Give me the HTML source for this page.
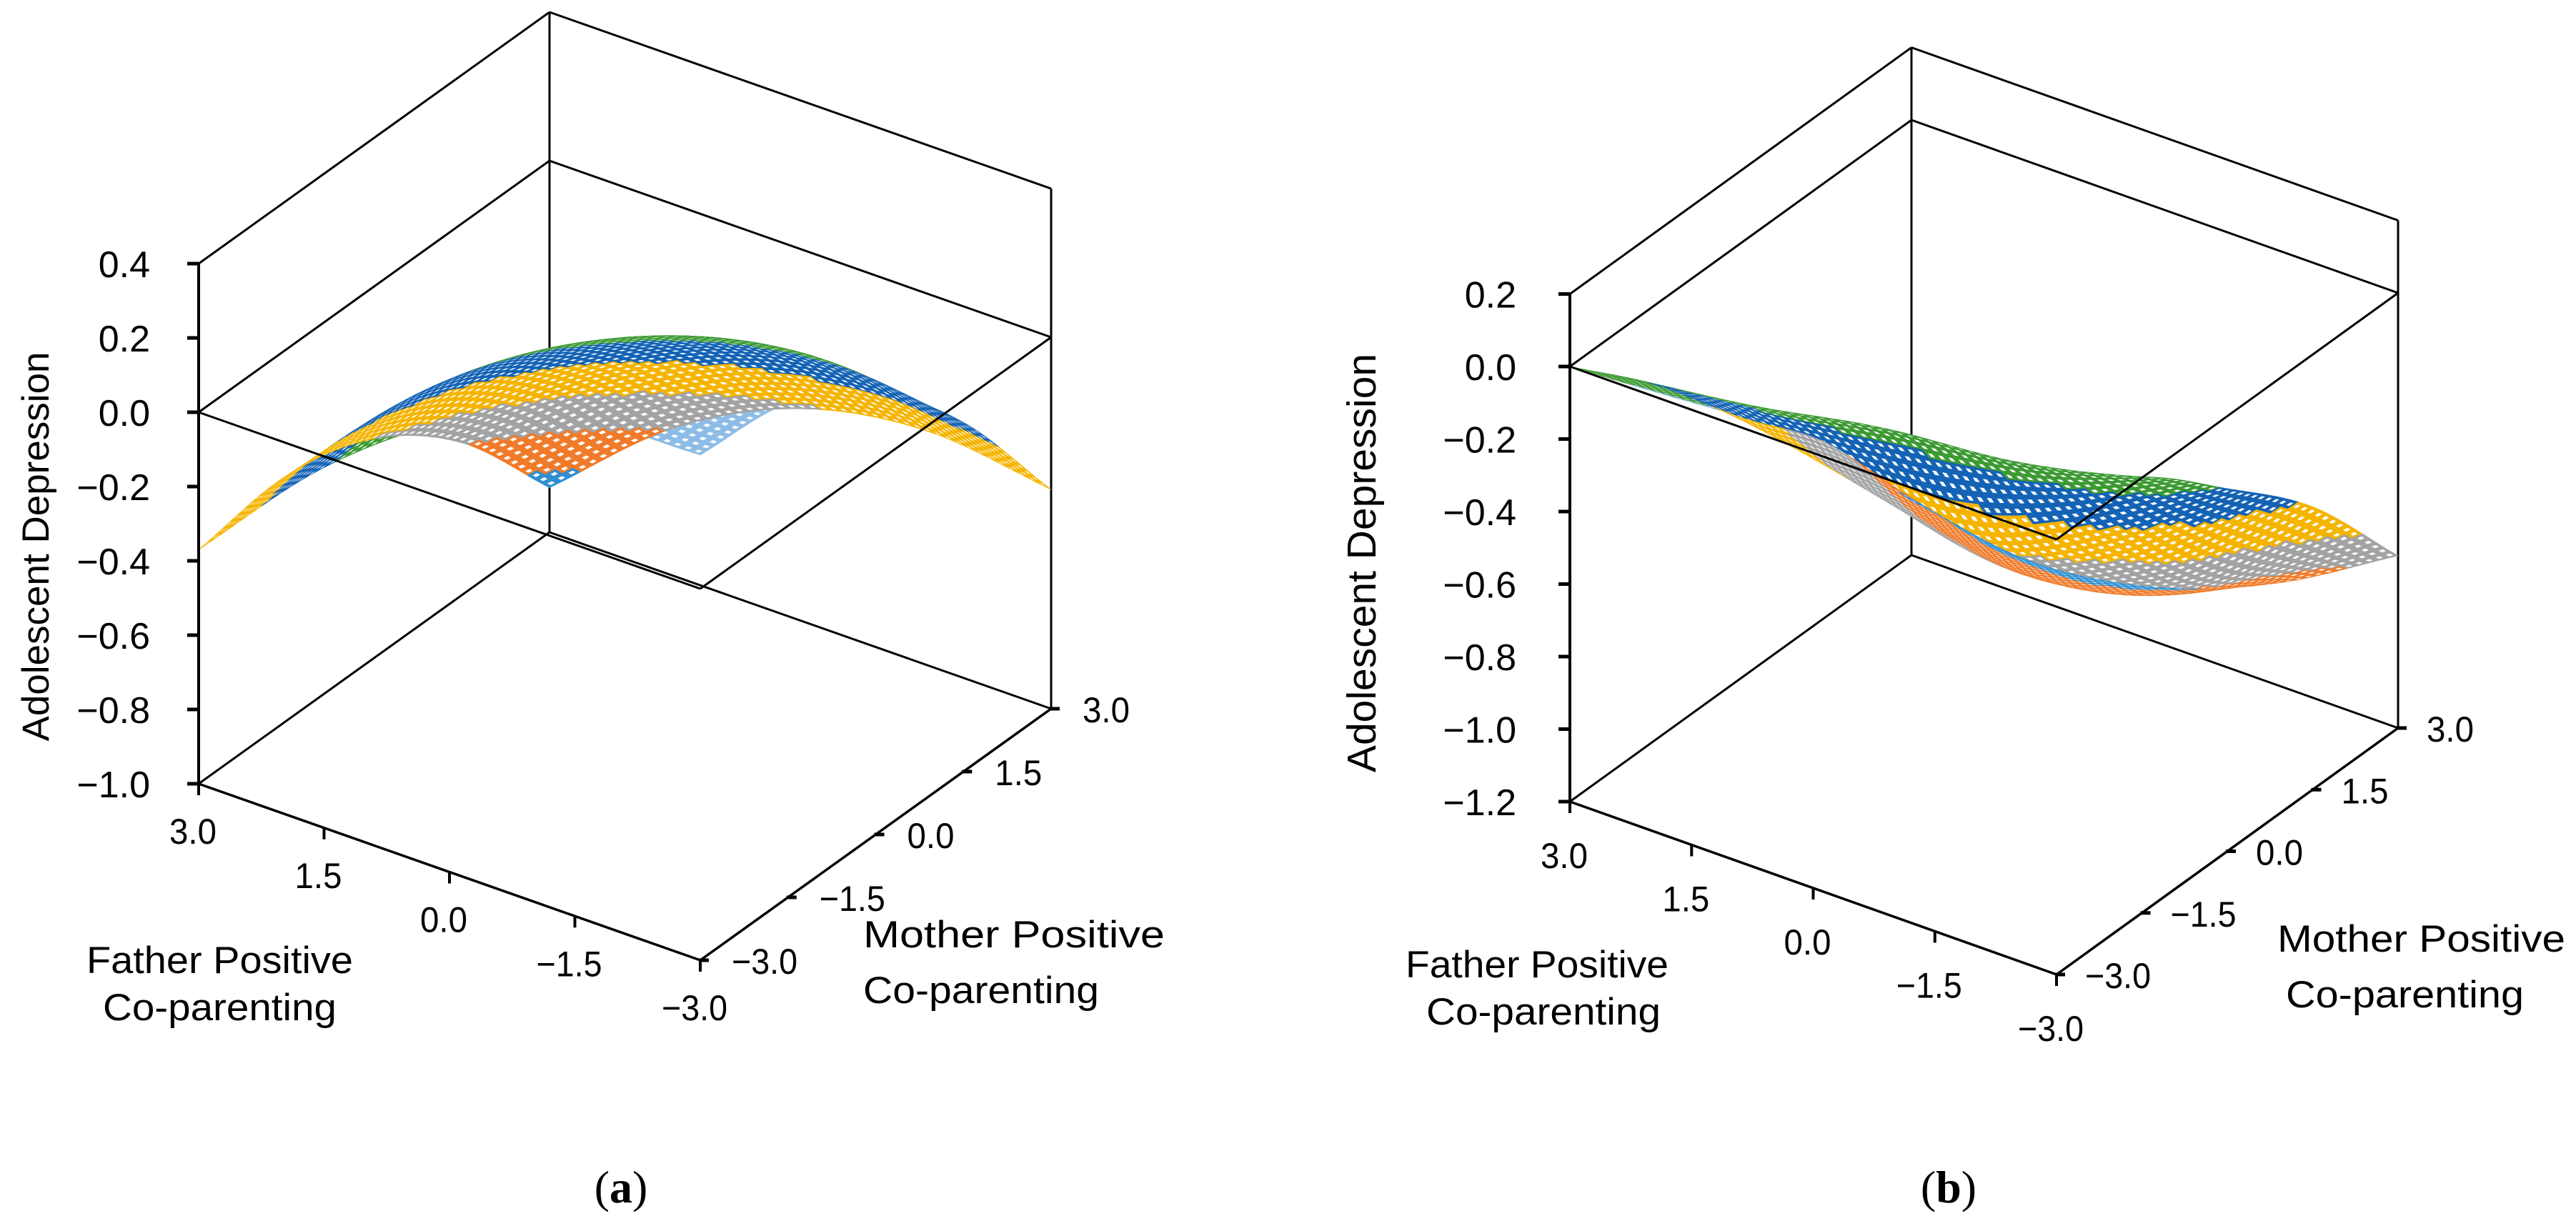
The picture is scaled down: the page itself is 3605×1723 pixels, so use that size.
<!DOCTYPE html>
<html><head><meta charset="utf-8"><style>
html,body{margin:0;padding:0;background:#fff;}
svg{display:block;}
text{font-family:"Liberation Sans",Arial,sans-serif;fill:#000;}
.cap{font-family:"Liberation Serif",serif;}
</style></head>
<body>
<svg id="fig" width="3605" height="1723" viewBox="0 0 3605 1723" xmlns="http://www.w3.org/2000/svg">
<rect width="3605" height="1723" fill="#fff"/>
<g id="chartA"></g>
<g id="chartB"></g>
<text class="cap" x="869" y="1683" font-size="64" text-anchor="middle">(<tspan font-weight="bold">a</tspan>)</text>
<text class="cap" x="2727" y="1683" font-size="64" text-anchor="middle">(<tspan font-weight="bold">b</tspan>)</text>
</svg>
<script>
// ---- data ----
const fatherLevels = [3, 1.5, 0, -1.5, -3];
const motherLevels = [-3, -1.5, 0, 1.5, 3];
// rows = father levels, columns = mother levels
const depressionA = [
  [-0.37, -0.34, -0.41, -0.59, -0.88],
  [-0.03, -0.01, -0.10, -0.30, -0.60],
  [ 0.21,  0.21,  0.10, -0.11, -0.43],
  [ 0.34,  0.32,  0.20, -0.03, -0.37],
  [ 0.36,  0.33,  0.19, -0.06, -0.41]
];
const depressionB = [
  [ 0.00, -0.22, -0.48, -0.72, -1.05],
  [ 0.02, -0.18, -0.55, -0.85, -1.10],
  [ 0.05, -0.12, -0.60, -0.88, -1.05],
  [ 0.08, -0.08, -0.45, -0.75, -0.92],
  [ 0.10,  0.00, -0.20, -0.42, -0.725]
];
const zTicksA = [0.4, 0.2, 0.0, -0.2, -0.4, -0.6, -0.8, -1.0];
const zTicksB = [0.2, 0.0, -0.2, -0.4, -0.6, -0.8, -1.0, -1.2];
const axisTicks = [3.0, 1.5, 0.0, -1.5, -3.0];
const bandColors = ['#2f8fd2','#f07b2a','#a3a3a3','#f5b400','#1463b5','#3c9a33','#8dbce6'];

const NS = 'http://www.w3.org/2000/svg';
function mk(tag, attrs, parent){
  const e = document.createElementNS(NS, tag);
  for (const k in attrs) e.setAttribute(k, attrs[k]);
  parent.appendChild(e);
  return e;
}
function fmt(v){ const s = Math.abs(v).toFixed(1); return (v < 0 ? '\u2212' : '') + s; }

function cr(p0,p1,p2,p3,t){
  return 0.5*((2*p1)+(-p0+p2)*t+(2*p0-5*p1+4*p2-p3)*t*t+(-p0+3*p1-3*p2+p3)*t*t*t);
}
function interp(grid, F, M){
  const r = (fatherLevels[0] - F) / 1.5, c = (M - motherLevels[0]) / 1.5;
  const g = (i,j)=>{
    // linear extrapolation beyond the border
    const ci = Math.max(0,Math.min(4,i)), cj = Math.max(0,Math.min(4,j));
    let v = grid[ci][cj];
    if (i < 0) v = 2*grid[0][cj] - grid[1][cj];
    if (i > 4) v = 2*grid[4][cj] - grid[3][cj];
    if (j < 0) v += (2*grid[ci][0] - grid[ci][1]) - grid[ci][0];
    if (j > 4) v += (2*grid[ci][4] - grid[ci][3]) - grid[ci][4];
    return v;
  };
  const ri = Math.min(3, Math.floor(r)), ci = Math.min(3, Math.floor(c));
  const tr = r - ri, tc = c - ci;
  const rows = [];
  for (let i=-1;i<=2;i++){
    rows.push(cr(g(ri+i,ci-1), g(ri+i,ci), g(ri+i,ci+1), g(ri+i,ci+2), tc));
  }
  return cr(rows[0], rows[1], rows[2], rows[3], tr);
}

function drawChart(cfg){
  const G = document.getElementById(cfg.id);
  const P = (F, M, z) => {
    const a = (3 - F) / 6, b = (M + 3) / 6;
    return [cfg.x0 + a*cfg.fx + b*cfg.mx, cfg.y0 + a*cfg.fy + b*cfg.my - (z - cfg.zmin)*cfg.k];
  };
  const line = (p, q, name, w) => {
    const l = mk('line', {x1:p[0].toFixed(1), y1:p[1].toFixed(1), x2:q[0].toFixed(1), y2:q[1].toFixed(1), stroke:'#000', 'stroke-width': w||3}, G);
    
    
    return l;
  };
  const zmax = cfg.zmax;
  line(P(3,-3,zmax), P(3,3,zmax), 'left-wall-top-edge');
  line(P(3,3,zmax), P(-3,3,zmax), 'right-wall-top-edge');
  line(P(3,3,zmax), P(3,3,cfg.zmin), 'back-wall-corner-edge');
  line(P(-3,3,zmax), P(-3,3,cfg.zmin), 'right-wall-edge');
  line(P(3,-3,cfg.zmin), P(3,3,cfg.zmin), 'floor-back-left-edge');
  line(P(3,3,cfg.zmin), P(-3,3,cfg.zmin), 'floor-back-right-edge');

  const surf = mk('g', {}, G);
  
  
  const N = 48, cells = [];
  const val = [];
  for (let i=0;i<=N;i++){ val.push([]); for (let j=0;j<=N;j++){
    const F = 3 - 6*i/N, M = -3 + 6*j/N;
    val[i].push(Math.min(cfg.zmax, Math.max(cfg.zmin, interp(cfg.data, F, M))));
  }}
  for (let i=0;i<N;i++) for (let j=0;j<N;j++){
    const F0 = 3 - 6*i/N, F1 = 3 - 6*(i+1)/N, M0 = -3 + 6*j/N, M1 = -3 + 6*(j+1)/N;
    const zs = [val[i][j], val[i+1][j], val[i+1][j+1], val[i][j+1]];
    const pts = [P(F0,M0,zs[0]), P(F1,M0,zs[1]), P(F1,M1,zs[2]), P(F0,M1,zs[3])];
    const za = (zs[0]+zs[1]+zs[2]+zs[3])/4;
    const depth = (i+0.5)*cfg.fy - (j+0.5)*cfg.my;
    cells.push({pts, za, depth});
  }
  cells.sort((a,b)=>a.depth-b.depth);
  for (const c of cells){
    let band = Math.floor((c.za - cfg.zmin)/0.2);
    band = Math.max(0, Math.min(bandColors.length-1, band));
    const d = 'M' + c.pts.map(p=>p[0].toFixed(1)+','+p[1].toFixed(1)).join('L') + 'Z';
    const cell = mk('path', {d, fill: bandColors[band], stroke: bandColors[band], 'stroke-width': 0.8}, surf);
    
    
    const cx = (c.pts[0][0]+c.pts[1][0]+c.pts[2][0]+c.pts[3][0])/4;
    const cy = (c.pts[0][1]+c.pts[1][1]+c.pts[2][1]+c.pts[3][1])/4;
    const s = 0.42;
    const dh = 'M' + c.pts.map(p=>(cx+(p[0]-cx)*s).toFixed(1)+','+(cy+(p[1]-cy)*s).toFixed(1)).join('L') + 'Z';
    const hole = mk('path', {d: dh, fill:'#fff'}, surf);
    
    
  }

  line(P(3,-3,0), P(3,3,0), 'zero-plane-back-left-edge');
  line(P(3,3,0), P(-3,3,0), 'zero-plane-back-right-edge');
  line(P(-3,3,0), P(-3,-3,0), 'zero-plane-front-right-edge');
  line(P(-3,-3,0), P(3,-3,0), 'zero-plane-front-left-edge');
  line(P(3,-3,cfg.zmin), P(-3,-3,cfg.zmin), 'father-axis-line', 3.5);
  line(P(-3,-3,cfg.zmin), P(-3,3,cfg.zmin), 'mother-axis-line', 3.5);
  line(P(3,-3,zmax), P(3,-3,cfg.zmin), 'z-axis-line', 4);

  cfg.zticks.forEach(v=>{
    const p = P(3,-3,v);
    line([p[0]-16,p[1]], [p[0],p[1]], 'z-tick', 5);
    const t = mk('text', {x: cfg.zLabelX, y: (p[1]+19).toFixed(1), 'font-size': 52, 'text-anchor':'end'}, G);
    
    
    t.textContent = fmt(v);
  });
  axisTicks.forEach(v=>{
    const p = P(v,-3,cfg.zmin);
    line([p[0],p[1]], [p[0],p[1]+16], 'father-tick', 4);
    const t = mk('text', {x: (p[0]-8).toFixed(1), y: (p[1]+cfg.fLabelDy).toFixed(1), 'font-size': 50, 'text-anchor':'middle', textLength: v<0?92:66, lengthAdjust:'spacingAndGlyphs'}, G);
    
    
    t.textContent = fmt(v);
  });
  axisTicks.slice().reverse().forEach(v=>{
    const p = P(-3,v,cfg.zmin);
    line([p[0]-2,p[1]], [p[0]+12,p[1]], 'mother-tick', 5);
    const t = mk('text', {x: (p[0]+cfg.mLabelDx).toFixed(1), y: (p[1]+19).toFixed(1), 'font-size': 50, textLength: v<0?92:66, lengthAdjust:'spacingAndGlyphs'}, G);
    
    
    t.textContent = fmt(v);
  });
  const zt = mk('text', {x: 0, y: 0, 'font-size': cfg.ztSize, 'text-anchor':'middle', transform:`translate(${cfg.ztX},${cfg.ztY}) rotate(-90)`}, G);
  
  
  zt.textContent = 'Adolescent Depression';
  cfg.titles.forEach(tt=>{
    const t = mk('text', {x: tt[0], y: tt[1], 'font-size': 53, textLength: tt[2], lengthAdjust:'spacingAndGlyphs'}, G);
    
    
    t.textContent = tt[3];
  });
}

drawChart({id:'chartA', x0:278, y0:1097, fx:702, fy:247, mx:491, my:-352, k:520, zmin:-1.0, zmax:0.4,
  data: depressionA, zticks: zTicksA, zLabelX: 210, fLabelDy: 84, mLabelDx: 44,
  ztSize: 53, ztX: 68, ztY: 765,
  titles: [[121,1362,373,'Father Positive','father-axis-title-line1'],[144,1428,327,'Co-parenting','father-axis-title-line2'],
           [1208,1326,422,'Mother Positive','mother-axis-title-line1'],[1208,1404,330,'Co-parenting','mother-axis-title-line2']]});
drawChart({id:'chartB', x0:2197, y0:1122, fx:681, fy:242, mx:478, my:-345, k:507.5, zmin:-1.2, zmax:0.2,
  data: depressionB, zticks: zTicksB, zLabelX: 2122, fLabelDy: 93, mLabelDx: 40,
  ztSize: 57, ztX: 1925, ztY: 788,
  titles: [[1967,1368,368,'Father Positive','father-axis-title-line1'],[1996,1434,328,'Co-parenting','father-axis-title-line2'],
           [3187,1332,403,'Mother Positive','mother-axis-title-line1'],[3199,1410,333,'Co-parenting','mother-axis-title-line2']]});
</script>
</body></html>
